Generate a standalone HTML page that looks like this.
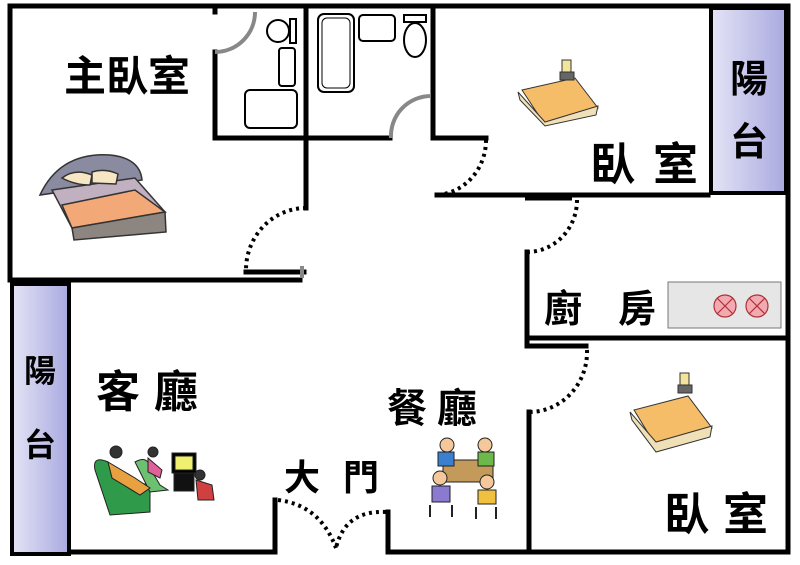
<!DOCTYPE html>
<html><head><meta charset="utf-8"><style>
html,body{margin:0;padding:0;background:#fff}
svg{display:block}
text{font-family:"Liberation Sans","Noto Sans CJK TC",sans-serif;fill:#000}
</style></head><body>
<svg width="800" height="565" viewBox="0 0 800 565" xmlns="http://www.w3.org/2000/svg">
<defs>
<linearGradient id="bal" x1="0" x2="1" y1="0" y2="0"><stop offset="0" stop-color="#e4e4f6"/><stop offset="1" stop-color="#a9a9e0"/></linearGradient>
</defs>
<rect width="800" height="565" fill="#fff"/>
<rect x="12" y="284" width="57" height="270" fill="url(#bal)" stroke="#000" stroke-width="4"/>
<rect x="711" y="8" width="75" height="185" fill="url(#bal)" stroke="#000" stroke-width="4"/>
<rect x="668" y="282" width="113" height="46" fill="#e6e6e6" stroke="#777" stroke-width="1"/>
<g stroke="#a33" stroke-width="1.2" fill="#f4a9b2">
<circle cx="725" cy="306" r="11"/><circle cx="757" cy="306" r="11"/>
<path d="M717 298l16 16M733 298l-16 16M749 298l16 16M765 298l-16 16" fill="none"/>
</g>
<g stroke="#000" stroke-width="5" fill="none" stroke-linecap="square">
<path d="M10 6H788V552"/>
<path d="M10 6V280H300"/>
<path d="M70 552H275V500M388 512V552H527M527 552H786"/>
<path d="M215 52V138H306"/>
<path d="M215 8V12"/>
<path d="M306 6V208"/>
<path d="M246 272H304"/>
<path d="M306 138H390"/>
<path d="M433 8V94M433 94V138H486"/>
<path d="M437 195H708"/>
<path d="M527 252V338H785"/>
<path d="M527 338V346H586"/>
<path d="M529 412V550"/>
</g>
<path d="M525 197H572" stroke="#000" stroke-width="7"/>
<g stroke="#888" stroke-width="4" fill="none">
<path d="M215 52A40 40 0 0 0 255 12"/>
<path d="M391 138A40 40 0 0 1 431 96"/>
<path d="M302 266V278"/>
</g>
<g stroke="#000" stroke-width="4" fill="none" stroke-dasharray="3 4">
<path d="M306 208A60 62 0 0 0 246 270"/>
<path d="M486 140A52 55 0 0 1 435 195"/>
<path d="M577 200A50 52 0 0 1 527 252"/>
<path d="M587 350A58 60 0 0 1 529 412"/>
<path d="M278 500Q320 505 336 548"/>
<path d="M386 512Q345 510 336 548"/>
</g>
<g stroke="#000" stroke-width="2" fill="#fff">
<rect x="318" y="14" width="36" height="78" rx="6"/><rect x="322" y="18" width="28" height="70" rx="5" stroke-width="1"/>
<rect x="359" y="15" width="36" height="26" rx="4"/>
<rect x="404" y="15" width="22" height="7"/><ellipse cx="415" cy="40" rx="11" ry="17"/>
<rect x="245" y="90" width="52" height="38" rx="5"/>
<rect x="279" y="48" width="16" height="38" rx="3"/>
<ellipse cx="278" cy="31" rx="11" ry="11"/><rect x="290" y="19" width="6" height="24"/>
</g>
<g stroke="#333" stroke-width="1.5">
<path d="M40 195Q60 152 110 155Q140 158 142 180Z" fill="#8a8aa0"/>
<path d="M52 190L135 178L165 212L72 228Z" fill="#c0b0c0"/>
<path d="M62 205L135 190L165 212L72 228Z" fill="#f3a878"/>
<path d="M72 228L165 212L166 232L74 240Z" fill="#8d8680"/>
<path d="M62 178Q75 168 92 175L90 185Q75 185 62 178Z" fill="#f7e6c4"/>
<path d="M92 172Q105 168 118 174L116 184L92 183Z" fill="#f7e6c4"/>
</g>
<g stroke="#333" stroke-width="1">
<path d="M522 90L575 78L598 108L545 125Z" fill="#f6bd68"/>
<path d="M518 92L545 122L598 106L596 115L545 126L520 100Z" fill="#efe0b8"/>
<rect x="562" y="60" width="9" height="12" fill="#f3e49c"/>
<rect x="560" y="72" width="14" height="8" fill="#666"/>
</g>
<g stroke="#333" stroke-width="1">
<path d="M634 410L688 396L712 428L656 446Z" fill="#f6bd68"/>
<path d="M630 412L656 442L712 426L710 437L656 452L632 420Z" fill="#efe0b8"/>
<rect x="680" y="373" width="9" height="12" fill="#f3e49c"/>
<rect x="678" y="385" width="14" height="8" fill="#666"/>
</g>
<g stroke="#222" stroke-width="1">
<path d="M95 470Q92 455 108 462L125 480L150 485L150 512L110 515Z" fill="#2e9a4a"/>
<path d="M135 462Q148 455 150 468L160 485L168 490L150 492Z" fill="#6cc070"/>
<circle cx="116" cy="452" r="6" fill="#333"/>
<path d="M108 462L135 478L150 488L140 495L112 478Z" fill="#e8a040"/>
<circle cx="153" cy="452" r="5" fill="#333"/>
<path d="M148 458L162 470L160 478L148 472Z" fill="#e0609a"/>
<rect x="172" y="453" width="24" height="20" fill="#000"/><rect x="175" y="456" width="18" height="14" fill="#f0f070"/>
<rect x="174" y="473" width="20" height="18" fill="#111"/>
<circle cx="200" cy="475" r="5" fill="#333"/><path d="M196 480L212 485L214 500L198 500Z" fill="#d04040"/>
</g>
<g stroke="#222" stroke-width="1">
<rect x="443" y="460" width="50" height="22" fill="#c49a5a"/>
<circle cx="447" cy="445" r="7" fill="#f4c89a"/><circle cx="485" cy="445" r="7" fill="#f4c89a"/>
<circle cx="440" cy="478" r="7" fill="#f4c89a"/><circle cx="487" cy="482" r="7" fill="#f4c89a"/>
<rect x="438" y="452" width="16" height="14" fill="#3b7fd0"/><rect x="478" y="452" width="16" height="14" fill="#6cb84a"/>
<rect x="432" y="486" width="18" height="16" fill="#8a7ad0"/><rect x="478" y="490" width="18" height="14" fill="#f0c040"/>
<path d="M430 505v12M452 505v12M476 507v12M496 507v12" stroke-width="2"/>
</g>
<g font-weight="bold">
<text x="64" y="91" font-size="42">主臥室</text>
<text x="590" y="180" font-size="45" letter-spacing="18">臥室</text>
<text x="730" y="92" font-size="38">陽</text>
<text x="730" y="155" font-size="38">台</text>
<text x="544" y="322" font-size="38">廚</text>
<text x="618" y="322" font-size="38">房</text>
<text x="664" y="530" font-size="45" letter-spacing="14">臥室</text>
<text x="24" y="382" font-size="32">陽</text>
<text x="24" y="456" font-size="32">台</text>
<text x="96" y="407" font-size="44" letter-spacing="14">客廳</text>
<text x="387" y="422" font-size="40" letter-spacing="10">餐廳</text>
<text x="284" y="490" font-size="36">大</text>
<text x="343" y="490" font-size="36">門</text>
</g>
</svg>
</body></html>
